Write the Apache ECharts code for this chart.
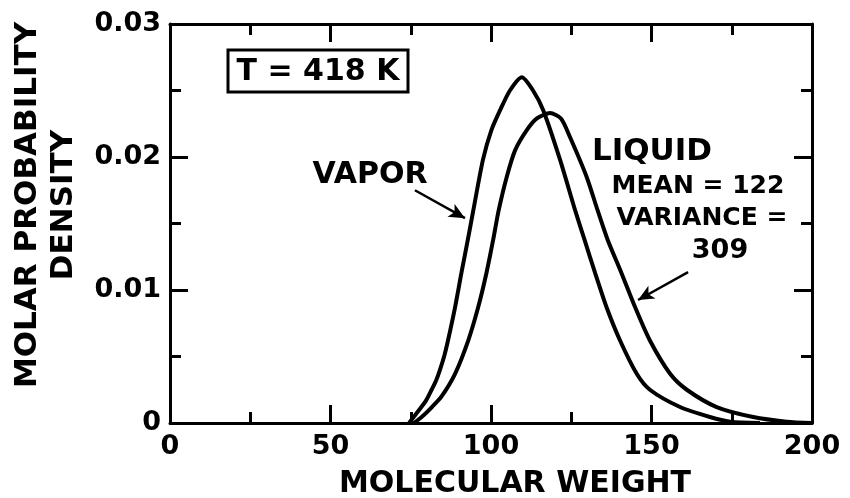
<!DOCTYPE html>
<html>
<head>
<meta charset="utf-8">
<script src="https://cdn.jsdelivr.net/npm/echarts@6/dist/echarts.min.js"></script>
<style>
  html, body { margin: 0; padding: 0; background: #fff; }
  #chart { width: 850px; height: 498px; }
</style>
</head>
<body>
<div id="chart"></div>
<script>
// ---- Data ----
const vaporX = [74.5, 75.9, 77.6, 79.8, 81.5, 82.9, 84.1, 85.5, 86.6, 88.8, 90.8, 92.8, 94.5, 97.5, 100.1, 102.8, 105.9, 109.6, 113.1, 116.3, 121.5, 126.2, 129.1, 132.4, 136.0, 140.2, 145.4, 149.5, 158.9, 168.2, 174.5, 183.8];
const vaporY = [0, 0.00045, 0.00098, 0.0017, 0.0025, 0.0032, 0.0040, 0.0051, 0.0062, 0.0087, 0.0113, 0.0138, 0.0160, 0.0198, 0.0220, 0.0235, 0.0250, 0.0260, 0.0250, 0.0235, 0.0198, 0.0160, 0.0138, 0.0113, 0.0087, 0.0062, 0.0037, 0.0025, 0.0012, 0.00045, 0.0001, 0];

const liquidX = [76, 78.4, 81.6, 84.6, 88.8, 92.9, 96.0, 98.6, 100.7, 102.4, 104.9, 107.5, 111.1, 114.3, 118.4, 121.8, 124.6, 129.8, 133.2, 136.3, 140.6, 144.9, 149.5, 155.8, 161.0, 170.3, 181.7, 192.1, 200];
const liquidY = [0, 0.00045, 0.0012, 0.0020, 0.0037, 0.0062, 0.0087, 0.0113, 0.0138, 0.0160, 0.0185, 0.0205, 0.0220, 0.0229, 0.0233, 0.0229, 0.0215, 0.0185, 0.0160, 0.0138, 0.0113, 0.0087, 0.0062, 0.0037, 0.0025, 0.0012, 0.00045, 0.0001, 0];

const xTicks = [0, 50, 100, 150, 200];
const yTicks = [0, 0.01, 0.02, 0.03];

// arrows (data coordinates): [start, end]
const vaporArrow = [[76.3, 0.0175], [91.9, 0.0154]];
const liquidArrow = [[161.4, 0.01135], [145.8, 0.00925]];

const xTitle = 'MOLECULAR WEIGHT';
const yTitle1 = 'MOLAR PROBABILITY';
const yTitle2 = 'DENSITY';

// ---- Chart ----
const FONT = '"DejaVu Sans", sans-serif';
const chart = echarts.init(document.getElementById('chart'), null, { renderer: 'canvas' });

function pairs(xs, ys) { return xs.map((x, i) => [x, ys[i]]); }

const axisLine = { show: true, onZero: false, lineStyle: { color: '#000', width: 3 } };
const tick = { show: true, inside: true, length: 18, lineStyle: { color: '#000', width: 3 } };
const minor = { show: true, splitNumber: 2, length: 11, lineStyle: { color: '#000', width: 3 } };

const option = {
  animation: false,
  backgroundColor: '#fff',
  grid: { left: 170, right: 38, top: 24, bottom: 75, containLabel: false },
  xAxis: [
    {
      type: 'value', min: xTicks[0], max: xTicks[xTicks.length - 1], interval: 50,
      position: 'bottom',
      axisLine, axisTick: tick, minorTick: minor,
      splitLine: { show: false }, minorSplitLine: { show: false },
      axisLabel: { show: true, margin: 10, color: '#000', fontFamily: FONT, fontWeight: 'bold', fontSize: 27 }
    },
    {
      type: 'value', min: 0, max: 200, interval: 50, position: 'top',
      axisLine, axisTick: tick, minorTick: minor,
      splitLine: { show: false }, axisLabel: { show: false }
    }
  ],
  yAxis: [
    {
      type: 'value', min: yTicks[0], max: yTicks[yTicks.length - 1], interval: 0.01,
      position: 'left',
      axisLine, axisTick: tick, minorTick: minor,
      splitLine: { show: false }, minorSplitLine: { show: false },
      axisLabel: {
        show: true, margin: 9, color: '#000', fontFamily: FONT, fontWeight: 'bold', fontSize: 27,
        formatter: v => (v === 0 ? '0' : v.toFixed(2))
      }
    },
    {
      type: 'value', min: 0, max: 0.03, interval: 0.01, position: 'right',
      axisLine, axisTick: tick, minorTick: minor,
      splitLine: { show: false }, axisLabel: { show: false }
    }
  ],
  series: [
    {
      name: 'VAPOR', type: 'line', data: pairs(vaporX, vaporY),
      smooth: 0.25, showSymbol: false, symbol: 'none',
      lineStyle: { color: '#000', width: 4 },
      markLine: {
        silent: true, symbol: ['none', 'arrow'], symbolSize: [11, 16],
        label: { show: false },
        lineStyle: { color: '#000', width: 2.5, type: 'solid' },
        data: [[{ coord: vaporArrow[0] }, { coord: vaporArrow[1] }]]
      }
    },
    {
      name: 'LIQUID', type: 'line', data: pairs(liquidX, liquidY),
      smooth: 0.25, showSymbol: false, symbol: 'none',
      lineStyle: { color: '#000', width: 4 },
      markLine: {
        silent: true, symbol: ['none', 'arrow'], symbolSize: [11, 16],
        label: { show: false },
        lineStyle: { color: '#000', width: 2.5, type: 'solid' },
        data: [[{ coord: liquidArrow[0] }, { coord: liquidArrow[1] }]]
      }
    }
  ],
  graphic: [
    { type: 'rect', shape: { x: 228, y: 50, width: 180, height: 42 },
      style: { fill: 'none', stroke: '#000', lineWidth: 3 } },
    { type: 'text', x: 318, y: 72,
      style: { text: 'T = 418 K', font: 'bold 30px ' + FONT, fill: '#000', textAlign: 'center', textVerticalAlign: 'middle', verticalAlign: 'middle' } },
    { type: 'text', x: 370, y: 175,
      style: { text: 'VAPOR', font: 'bold 30px ' + FONT, fill: '#000', textAlign: 'center', textVerticalAlign: 'middle', verticalAlign: 'middle' } },
    { type: 'text', x: 652, y: 152,
      style: { text: 'LIQUID', font: 'bold 31px ' + FONT, fill: '#000', textAlign: 'center', textVerticalAlign: 'middle', verticalAlign: 'middle' } },
    { type: 'text', x: 698, y: 186,
      style: { text: 'MEAN = 122', font: 'bold 25px ' + FONT, fill: '#000', textAlign: 'center', textVerticalAlign: 'middle', verticalAlign: 'middle' } },
    { type: 'text', x: 702, y: 218,
      style: { text: 'VARIANCE =', font: 'bold 25px ' + FONT, fill: '#000', textAlign: 'center', textVerticalAlign: 'middle', verticalAlign: 'middle' } },
    { type: 'text', x: 720, y: 251,
      style: { text: '309', font: 'bold 27px ' + FONT, fill: '#000', textAlign: 'center', textVerticalAlign: 'middle', verticalAlign: 'middle' } },
    { type: 'text', x: 515, y: 484,
      style: { text: xTitle, font: 'bold 30px ' + FONT, fill: '#000', textAlign: 'center', textVerticalAlign: 'middle', verticalAlign: 'middle' } },
    { type: 'text', x: 28, y: 205, rotation: Math.PI / 2,
      style: { text: yTitle1, font: 'bold 31px ' + FONT, fill: '#000', textAlign: 'center', textVerticalAlign: 'middle', verticalAlign: 'middle' } },
    { type: 'text', x: 64, y: 205, rotation: Math.PI / 2,
      style: { text: yTitle2, font: 'bold 31px ' + FONT, fill: '#000', textAlign: 'center', textVerticalAlign: 'middle', verticalAlign: 'middle' } }
  ]
};
chart.setOption(option);
</script>
</body>
</html>
